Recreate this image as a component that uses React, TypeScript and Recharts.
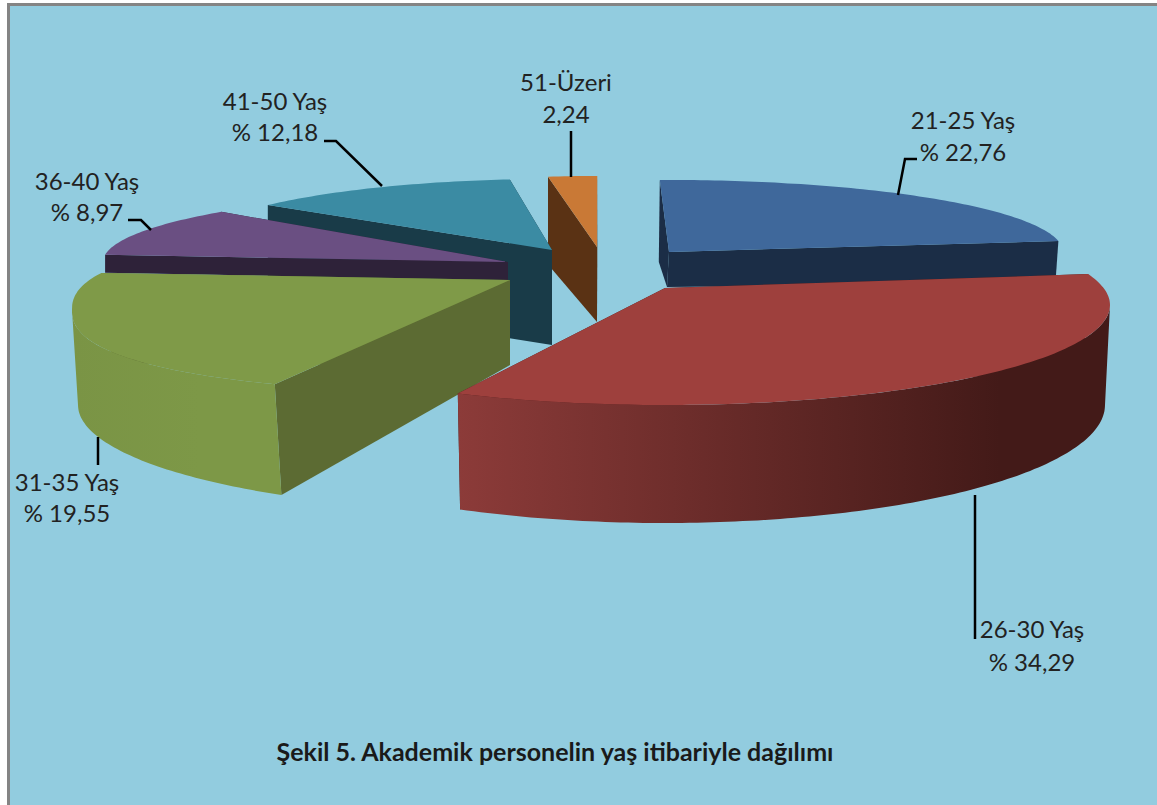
import React from 'react';
import { PieChart, Pie } from 'recharts';

const categories = ['21-25 Yaş', '51-Üzeri', '41-50 Yaş', '36-40 Yaş', '31-35 Yaş', '26-30 Yaş'];
const seriesValues = [22.76, 2.24, 12.18, 8.97, 19.55, 34.29];
const valueLabels = ['% 22,76', '2,24', '% 12,18', '% 8,97', '% 19,55', '% 34,29'];

const chartData = categories.map((name, i) => ({ name, value: seriesValues[i], valueLabel: valueLabels[i] }));

type Ell = { cx: number; cy: number; rx: number; ry: number; p?: number };
type Geo = {
  apex: [number, number]; top: Ell; botApex: [number, number]; bot: Ell;
  shift: [number, number]; botEndDelta?: number;
  topFill: string; wallFill: string; bandFrom?: string; bandTo?: string; bandX?: [number, number];
};

// Per-slice projection of the library's angles onto the tilted, exploded view.
const geometry: Record<string, Geo> = {
  '21-25 Yaş': {
    apex: [669, 252], top: { cx: 669, cy: 252, rx: 394, ry: 72 },
    botApex: [667, 287], bot: { cx: 668, cy: 287, rx: 392, ry: 25 }, shift: [0.8, 1.4],
    topFill: '#3f689b', wallFill: '#1b2d46',
  },
  '51-Üzeri': {
    apex: [597, 247], top: { cx: 597, cy: 247, rx: 352, ry: 71 },
    botApex: [597, 322], bot: { cx: 597, cy: 322, rx: 352, ry: 58 }, shift: [0, 0],
    topFill: '#c97936', wallFill: '#5a3214',
  },
  '41-50 Yaş': {
    apex: [552, 250], top: { cx: 552, cy: 250, rx: 367, ry: 71 },
    botApex: [552, 345], bot: { cx: 552, cy: 345, rx: 367, ry: 71 }, shift: [-1.4, -1.1],
    topFill: '#3b8ba3', wallFill: '#193b48',
  },
  '36-40 Yaş': {
    apex: [508, 262], top: { cx: 508, cy: 262, rx: 405, ry: 71 },
    botApex: [508, 280], bot: { cx: 508, cy: 280, rx: 405, ry: 71 }, shift: [-6.8, 0],
    topFill: '#6a4f82', wallFill: '#2e2239',
  },
  '31-35 Yaş': {
    apex: [510, 280], top: { cx: 510, cy: 310, rx: 438, ry: 83, p: 0.85 },
    botApex: [510, 365], bot: { cx: 510, cy: 405, rx: 432, ry: 106 }, shift: [-17, -3.3], botEndDelta: -3.2,
    topFill: '#7f9a48', wallFill: '#5c6b33', bandFrom: '#7a9445', bandTo: '#7d9847', bandX: [72, 200],
  },
  '26-30 Yaş': {
    apex: [665, 288], top: { cx: 665, cy: 305, rx: 445, ry: 100 },
    botApex: [665, 400], bot: { cx: 665, cy: 405, rx: 440, ry: 118 }, shift: [-2.3, 10],
    topFill: '#9e403d', wallFill: '#43191a', bandFrom: '#8c3b39', bandTo: '#431a18', bandX: [458, 1000],
  },
};

// Label anchor (text centre x, two baselines) and leader-line points.
const labelLayout: Record<string, { x: number; y1: number; y2: number; line: [number, number][] }> = {
  '21-25 Yaş': { x: 963, y1: 129, y2: 161, line: [[917, 159], [905, 159], [898, 195]] },
  '51-Üzeri': { x: 566, y1: 91, y2: 123, line: [[571, 131], [571, 177]] },
  '41-50 Yaş': { x: 275, y1: 110, y2: 141, line: [[324, 141], [336, 141], [382, 186]] },
  '36-40 Yaş': { x: 87, y1: 190, y2: 221, line: [[128, 220], [141, 220], [151, 230]] },
  '31-35 Yaş': { x: 67, y1: 491, y2: 522, line: [[98, 437], [98, 465]] },
  '26-30 Yaş': { x: 1032, y1: 638, y2: 671, line: [[975, 495], [975, 639]] },
};

const FONT = 'Lato, "Open Sans", sans-serif';

function pt(e: Ell, deg: number): [number, number] {
  const a = (deg * Math.PI) / 180;
  const p = e.p ?? 1;
  const c = Math.cos(a);
  const s = Math.sin(a);
  return [
    e.cx + e.rx * Math.sign(c) * Math.pow(Math.abs(c), p),
    e.cy - e.ry * Math.sign(s) * Math.pow(Math.abs(s), p),
  ];
}

function arc(e: Ell, from: number, to: number): [number, number][] {
  const out: [number, number][] = [];
  const n = Math.max(2, Math.ceil(Math.abs(to - from)));
  for (let i = 0; i <= n; i++) out.push(pt(e, from + ((to - from) * i) / n));
  return out;
}

const toPath = (pts: [number, number][]) =>
  'M' + pts.map((q) => `${q[0].toFixed(1)},${q[1].toFixed(1)}`).join('L') + 'Z';

function Slice3D(props: any) {
  const g = geometry[props.name];
  if (!g) return null;
  const s = Math.min(props.startAngle, props.endAngle) + g.shift[0];
  const e = Math.max(props.startAngle, props.endAngle) + g.shift[1];
  const eb = e + (g.botEndDelta ?? 0);
  const wallA = toPath([g.apex, pt(g.top, s), pt(g.bot, s), g.botApex]);
  const wallB = toPath([g.apex, pt(g.top, e), pt(g.bot, eb), g.botApex]);
  const topFace = toPath([g.apex, ...arc(g.top, s, e)]);
  const bs = Math.max(s, 180);
  const be = Math.min(e, 360);
  const hasBand = be > bs && !!g.bandFrom;
  const bbe = Math.min(eb, 360);
  const gid = 'band-' + props.name.slice(0, 2);
  const band = hasBand ? toPath([...arc(g.top, bs, be), ...arc(g.bot, bbe, bs)]) : '';
  return (
    <g>
      {hasBand && (
        <defs>
          <linearGradient id={gid} gradientUnits="userSpaceOnUse" x1={g.bandX![0]} x2={g.bandX![1]} y1={0} y2={0}>
            <stop offset="0%" stopColor={g.bandFrom} />
            <stop offset="100%" stopColor={g.bandTo} />
          </linearGradient>
        </defs>
      )}
      <path d={wallA} fill={g.wallFill} />
      <path d={wallB} fill={g.wallFill} />
      {hasBand && <path d={band} fill={`url(#${gid})`} />}
      <path d={topFace} fill={g.topFill} />
    </g>
  );
}

function SliceLabel(props: any) {
  const l = labelLayout[props.name];
  if (!l) return null;
  const row = chartData.find((d) => d.name === props.name);
  const textStyle = { fontFamily: FONT, fontSize: 24, fill: '#222222' };
  return (
    <g>
      <polyline points={l.line.map((q) => q.join(',')).join(' ')} fill="none" stroke="#000000" strokeWidth={2.5} />
      <text x={l.x} y={l.y1} textAnchor="middle" style={textStyle}>{props.name}</text>
      <text x={l.x} y={l.y2} textAnchor="middle" style={textStyle}>{row?.valueLabel}</text>
    </g>
  );
}

export default function App() {
  return (
    <div style={{ position: 'absolute', left: 0, top: 0, width: 1157, height: 805, background: '#ffffff', overflow: 'hidden' }}>
      <div style={{ position: 'absolute', left: 7, top: 3, width: 1150, height: 802, boxSizing: 'border-box', borderLeft: '3px solid #848484', borderTop: '3px solid #848484', background: '#92ccdf' }} />
      <div style={{ position: 'absolute', left: 0, top: 0 }}>
        <PieChart width={1157} height={805} margin={{ top: 0, right: 0, bottom: 0, left: 0 }}>
          <Pie
            data={chartData}
            dataKey="value"
            nameKey="name"
            cx={578}
            cy={300}
            outerRadius={100}
            startAngle={8}
            endAngle={368}
            stroke="none"
            isAnimationActive={false}
            shape={Slice3D}
            label={SliceLabel}
            labelLine={false}
          />
          <text x={555} y={761} textAnchor="middle" style={{ fontFamily: FONT, fontSize: 25, fontWeight: 700, fill: '#1a1a1a' }}>
            Şekil 5. Akademik personelin yaş itibariyle dağılımı
          </text>
        </PieChart>
      </div>
    </div>
  );
}
